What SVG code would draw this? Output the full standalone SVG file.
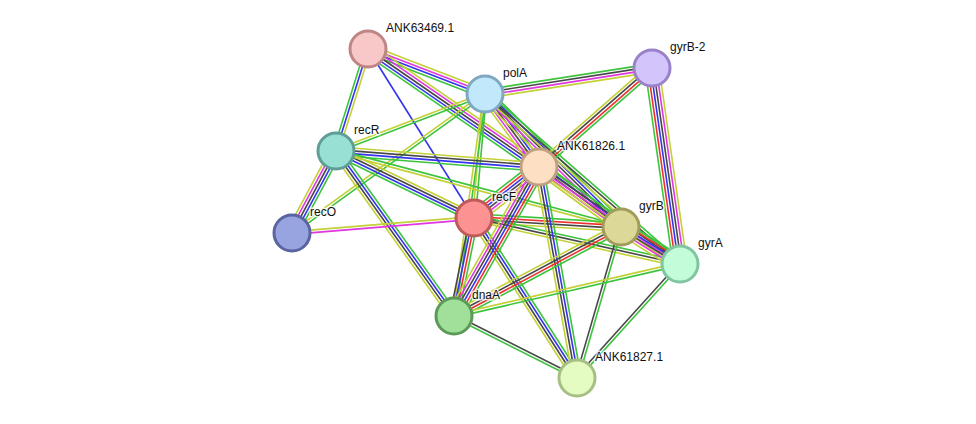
<svg xmlns="http://www.w3.org/2000/svg" width="976" height="424" viewBox="0 0 976 424">
<style>
line{stroke-width:1.6;fill:none}
.g{stroke:#3cc43c}.r{stroke:#f03030}.b{stroke:#3434f0}.k{stroke:#474747}.m{stroke:#e036e0}.y{stroke:#c3d136}
circle{stroke-width:3}
text{font-family:"Liberation Sans",Arial,sans-serif;font-size:12px;fill:#111;stroke:#fff;stroke-width:3;stroke-opacity:0.8;paint-order:stroke;stroke-linejoin:round}
</style>
<rect width="976" height="424" fill="#fff"/>
<g id="edges">
<g transform="translate(368 49) rotate(21.04)"><line x2="125.4" y1="-4.2" y2="-4.2" class="y"/><line x2="125.4" y1="-1.4" y2="-1.4" class="m"/><line x2="125.4" y1="1.4" y2="1.4" class="b"/><line x2="125.4" y1="4.2" y2="4.2" class="g"/></g>
<g transform="translate(368 49) rotate(34.61)"><line x2="207.8" y1="-5.6" y2="-5.6" class="y"/><line x2="207.8" y1="-2.8" y2="-2.8" class="m"/><line x2="207.8" class="k"/><line x2="207.8" y1="2.8" y2="2.8" class="b"/><line x2="207.8" y1="5.6" y2="5.6" class="g"/></g>
<g transform="translate(368 49) rotate(107.42)"><line x2="106.9" y1="-2.8" y2="-2.8" class="y"/><line x2="106.9" class="b"/><line x2="106.9" y1="2.8" y2="2.8" class="g"/></g>
<g transform="translate(368 49) rotate(57.90)"><line x2="199.5" class="b"/></g>
<g transform="translate(485 94) rotate(-8.85)"><line x2="169" y1="-4.2" y2="-4.2" class="g"/><line x2="169" y1="-1.4" y2="-1.4" class="k"/><line x2="169" y1="1.4" y2="1.4" class="m"/><line x2="169" y1="4.2" y2="4.2" class="y"/></g>
<g transform="translate(485 94) rotate(53.51)"><line x2="90.8" y1="-5.6" y2="-5.6" class="g"/><line x2="90.8" y1="-2.8" y2="-2.8" class="b"/><line x2="90.8" class="k"/><line x2="90.8" y1="2.8" y2="2.8" class="m"/><line x2="90.8" y1="5.6" y2="5.6" class="y"/></g>
<g transform="translate(485 94) rotate(44.36)"><line x2="190.2" y1="-5.6" y2="-5.6" class="g"/><line x2="190.2" y1="-2.8" y2="-2.8" class="b"/><line x2="190.2" class="k"/><line x2="190.2" y1="2.8" y2="2.8" class="m"/><line x2="190.2" y1="5.6" y2="5.6" class="y"/></g>
<g transform="translate(485 94) rotate(41.08)"><line x2="258.7" y1="-2.8" y2="-2.8" class="g"/><line x2="258.7" class="k"/><line x2="258.7" y1="2.8" y2="2.8" class="y"/></g>
<g transform="translate(485 94) rotate(95.07)"><line x2="124.5" y1="-1.4" y2="-1.4" class="g"/><line x2="124.5" y1="1.4" y2="1.4" class="y"/></g>
<g transform="translate(485 94) rotate(97.95)"><line x2="224.2" y1="-1.4" y2="-1.4" class="g"/><line x2="224.2" y1="1.4" y2="1.4" class="y"/></g>
<g transform="translate(485 94) rotate(159.06)"><line x2="159.5" y1="-1.4" y2="-1.4" class="g"/><line x2="159.5" y1="1.4" y2="1.4" class="y"/></g>
<g transform="translate(485 94) rotate(144.23)"><line x2="237.8" y1="-1.4" y2="-1.4" class="g"/><line x2="237.8" y1="1.4" y2="1.4" class="y"/></g>
<g transform="translate(652 68) rotate(138.78)"><line x2="150.2" y1="-4.2" y2="-4.2" class="g"/><line x2="150.2" y1="-1.4" y2="-1.4" class="r"/><line x2="150.2" y1="1.4" y2="1.4" class="k"/><line x2="150.2" y1="4.2" y2="4.2" class="y"/></g>
<g transform="translate(652 68) rotate(81.87)"><line x2="198" y1="-7" y2="-7" class="y"/><line x2="198" y1="-4.2" y2="-4.2" class="m"/><line x2="198" y1="-1.4" y2="-1.4" class="k"/><line x2="198" y1="1.4" y2="1.4" class="b"/><line x2="198" y1="4.2" y2="4.2" class="r"/><line x2="198" y1="7" y2="7" class="g"/></g>
<g transform="translate(336 151) rotate(4.51)"><line x2="203.6" y1="-4.2" y2="-4.2" class="y"/><line x2="203.6" y1="-1.4" y2="-1.4" class="k"/><line x2="203.6" y1="1.4" y2="1.4" class="b"/><line x2="203.6" y1="4.2" y2="4.2" class="g"/></g>
<g transform="translate(336 151) rotate(25.90)"><line x2="153.4" y1="-4.2" y2="-4.2" class="y"/><line x2="153.4" y1="-1.4" y2="-1.4" class="k"/><line x2="153.4" y1="1.4" y2="1.4" class="b"/><line x2="153.4" y1="4.2" y2="4.2" class="g"/></g>
<g transform="translate(336 151) rotate(118.21)"><line x2="93.1" y1="-5.6" y2="-5.6" class="g"/><line x2="93.1" y1="-2.8" y2="-2.8" class="b"/><line x2="93.1" class="k"/><line x2="93.1" y1="2.8" y2="2.8" class="m"/><line x2="93.1" y1="5.6" y2="5.6" class="y"/></g>
<g transform="translate(336 151) rotate(54.43)"><line x2="202.9" y1="-4.2" y2="-4.2" class="g"/><line x2="202.9" y1="-1.4" y2="-1.4" class="b"/><line x2="202.9" y1="1.4" y2="1.4" class="k"/><line x2="202.9" y1="4.2" y2="4.2" class="y"/></g>
<g transform="translate(336 151) rotate(14.93)"><line x2="295" y1="-1.4" y2="-1.4" class="g"/><line x2="295" y1="1.4" y2="1.4" class="y"/></g>
<g transform="translate(292 233) rotate(-4.71)"><line x2="182.6" y1="-1.4" y2="-1.4" class="y"/><line x2="182.6" y1="1.4" y2="1.4" class="m"/></g>
<g transform="translate(474 218) rotate(-38.12)"><line x2="82.6" y1="-7" y2="-7" class="g"/><line x2="82.6" y1="-4.2" y2="-4.2" class="r"/><line x2="82.6" y1="-1.4" y2="-1.4" class="b"/><line x2="82.6" y1="1.4" y2="1.4" class="k"/><line x2="82.6" y1="4.2" y2="4.2" class="m"/><line x2="82.6" y1="7" y2="7" class="y"/></g>
<g transform="translate(474 218) rotate(3.50)"><line x2="147.3" y1="-4.2" y2="-4.2" class="g"/><line x2="147.3" y1="-1.4" y2="-1.4" class="r"/><line x2="147.3" y1="1.4" y2="1.4" class="k"/><line x2="147.3" y1="4.2" y2="4.2" class="y"/></g>
<g transform="translate(474 218) rotate(12.59)"><line x2="211.1" y1="-2.8" y2="-2.8" class="g"/><line x2="211.1" class="k"/><line x2="211.1" y1="2.8" y2="2.8" class="y"/></g>
<g transform="translate(474 218) rotate(101.53)"><line x2="100" y1="-4.2" y2="-4.2" class="g"/><line x2="100" y1="-1.4" y2="-1.4" class="r"/><line x2="100" y1="1.4" y2="1.4" class="b"/><line x2="100" y1="4.2" y2="4.2" class="k"/></g>
<g transform="translate(474 218) rotate(57.23)"><line x2="190.3" y1="-4.2" y2="-4.2" class="g"/><line x2="190.3" y1="-1.4" y2="-1.4" class="b"/><line x2="190.3" y1="1.4" y2="1.4" class="k"/><line x2="190.3" y1="4.2" y2="4.2" class="y"/></g>
<g transform="translate(539 167) rotate(36.19)"><line x2="101.6" y1="-5.6" y2="-5.6" class="g"/><line x2="101.6" y1="-2.8" y2="-2.8" class="b"/><line x2="101.6" class="k"/><line x2="101.6" y1="2.8" y2="2.8" class="m"/><line x2="101.6" y1="5.6" y2="5.6" class="y"/></g>
<g transform="translate(539 167) rotate(34.53)"><line x2="171.1" y1="-4.2" y2="-4.2" class="g"/><line x2="171.1" y1="-1.4" y2="-1.4" class="k"/><line x2="171.1" y1="1.4" y2="1.4" class="m"/><line x2="171.1" y1="4.2" y2="4.2" class="y"/></g>
<g transform="translate(539 167) rotate(119.70)"><line x2="171.5" y1="-7" y2="-7" class="g"/><line x2="171.5" y1="-4.2" y2="-4.2" class="r"/><line x2="171.5" y1="-1.4" y2="-1.4" class="b"/><line x2="171.5" y1="1.4" y2="1.4" class="k"/><line x2="171.5" y1="4.2" y2="4.2" class="m"/><line x2="171.5" y1="7" y2="7" class="y"/></g>
<g transform="translate(539 167) rotate(79.79)"><line x2="214.4" y1="-4.2" y2="-4.2" class="g"/><line x2="214.4" y1="-1.4" y2="-1.4" class="b"/><line x2="214.4" y1="1.4" y2="1.4" class="k"/><line x2="214.4" y1="4.2" y2="4.2" class="y"/></g>
<g transform="translate(621 227) rotate(32.09)"><line x2="69.6" y1="-7" y2="-7" class="g"/><line x2="69.6" y1="-4.2" y2="-4.2" class="r"/><line x2="69.6" y1="-1.4" y2="-1.4" class="b"/><line x2="69.6" y1="1.4" y2="1.4" class="k"/><line x2="69.6" y1="4.2" y2="4.2" class="m"/><line x2="69.6" y1="7" y2="7" class="y"/></g>
<g transform="translate(621 227) rotate(151.95)"><line x2="189.2" y1="-4.2" y2="-4.2" class="g"/><line x2="189.2" y1="-1.4" y2="-1.4" class="r"/><line x2="189.2" y1="1.4" y2="1.4" class="k"/><line x2="189.2" y1="4.2" y2="4.2" class="y"/></g>
<g transform="translate(621 227) rotate(106.25)"><line x2="157.3" y1="-1.4" y2="-1.4" class="g"/><line x2="157.3" y1="1.4" y2="1.4" class="k"/></g>
<g transform="translate(680 264) rotate(167.04)"><line x2="231.9" y1="-1.4" y2="-1.4" class="g"/><line x2="231.9" y1="1.4" y2="1.4" class="y"/></g>
<g transform="translate(680 264) rotate(132.10)"><line x2="153.6" y1="-1.4" y2="-1.4" class="g"/><line x2="153.6" y1="1.4" y2="1.4" class="k"/></g>
<g transform="translate(454 316) rotate(26.75)"><line x2="137.7" y1="-1.4" y2="-1.4" class="k"/><line x2="137.7" y1="1.4" y2="1.4" class="g"/></g>
</g>
<g id="n-ANK63469.1"><circle cx="368" cy="49" r="18" fill="#f8c7c7" stroke="#bf8585"/><text x="386" y="32">ANK63469.1</text></g>
<g id="n-polA"><circle cx="485" cy="94" r="18" fill="#c2e8fc" stroke="#80a8c0"/><text x="503" y="77">polA</text></g>
<g id="n-gyrB-2"><circle cx="652" cy="68" r="18" fill="#d4c4fc" stroke="#9a82c8"/><text x="670" y="51">gyrB-2</text></g>
<g id="n-recR"><circle cx="336" cy="151" r="18" fill="#98e0d4" stroke="#5f9e98"/><text x="354" y="134">recR</text></g>
<g id="n-ANK61826.1"><circle cx="539" cy="167" r="18" fill="#fde0c4" stroke="#c0a080"/><text x="557" y="150">ANK61826.1</text></g>
<g id="n-recO"><circle cx="292" cy="233" r="18" fill="#98a4e0" stroke="#5a64a0"/><text x="310" y="216">recO</text></g>
<g id="n-recF"><circle cx="474" cy="218" r="18" fill="#fc9292" stroke="#c05a5a"/><text x="492" y="201">recF</text></g>
<g id="n-gyrB"><circle cx="621" cy="227" r="18" fill="#dcd898" stroke="#a09c5a"/><text x="639" y="210">gyrB</text></g>
<g id="n-gyrA"><circle cx="680" cy="264" r="18" fill="#c2fcd8" stroke="#80c4a0"/><text x="698" y="247">gyrA</text></g>
<g id="n-dnaA"><circle cx="454" cy="316" r="18" fill="#a0e09a" stroke="#5c9a58"/><text x="472" y="299">dnaA</text></g>
<g id="n-ANK61827.1"><circle cx="577" cy="378" r="18" fill="#e4fcc2" stroke="#a6c084"/><text x="595" y="361">ANK61827.1</text></g>
</svg>
